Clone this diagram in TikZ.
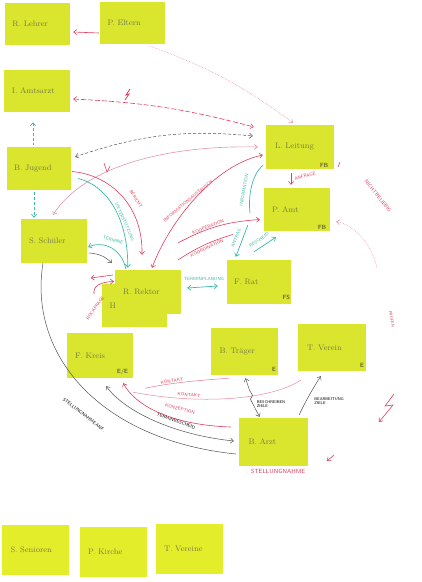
\documentclass[tikz,border=0pt]{standalone}
\usepackage{fontspec}
\usepackage{xcolor}
\usepackage{tikz}
\usetikzlibrary{shapes, arrows, arrows.meta, positioning, calc}

\definecolor{notegreen}{RGB}{217,230,45}
\definecolor{noteyellow}{RGB}{228,237,42}
\definecolor{namegray}{RGB}{120,125,70}
\definecolor{penred}{RGB}{222,62,92}
\definecolor{penpink}{RGB}{226,150,168}
\definecolor{penteal}{RGB}{58,184,168}
\definecolor{pengray}{RGB}{85,80,75}

\begin{document}
\begin{tikzpicture}[x=1pt, y=-1pt, >={Straight Barb[length=3pt,width=5pt]},
    note/.style={fill=notegreen, minimum width=66pt, minimum height=44pt, inner sep=0pt,
                 text width=50pt, align=left, font=\fontsize{8}{9}\selectfont, text=namegray},
    tag/.style={anchor=south east, inner sep=0pt, font=\fontsize{6}{6}\selectfont\sffamily, text=black!80},
    hand/.style={font=\fontsize{4.5}{5}\selectfont\sffamily, inner sep=0.5pt},
    redpen/.style={penred, line width=0.6pt},
    pinkpen/.style={penpink, line width=0.6pt, densely dotted},
    tealpen/.style={penteal, line width=0.7pt},
    graypen/.style={pengray, line width=0.5pt}]
\useasboundingbox (0,0) rectangle (422,582);

% notes, top to bottom
\node[note, minimum width=65pt, minimum height=42pt] (lehrer) at (37.5,24) {R. Lehrer};
\node[note, minimum width=65pt, minimum height=42pt] (eltern) at (132.5,23) {P. Eltern};
\node[note, minimum height=42pt] (amt) at (37,91) {I. Amtsarzt};
\node[note, minimum width=68pt] (leitung) at (300,147) {L. Leitung};
\node[note, minimum width=64pt, minimum height=43pt] (jugend) at (39,168.5) {B. Jugend};
\node[note, minimum height=43pt] (behoerde) at (297,209.5) {P. Amt};
\node[note] (schueler) at (54,241) {S. Schüler};
\node[note, minimum width=65pt, minimum height=43pt] (rektorb) at (134.5,305.5) {H. Rektor};
\node[note] (rektor) at (148,292) {R. Rektor};
\node[note, minimum width=64pt] (rat) at (259,282) {F. Rat};
\node[note, minimum height=45pt] (kreis) at (100,355.5) {F. Kreis};
\node[note, minimum width=67pt, minimum height=47pt] (traeger) at (244.5,351.5) {B. Träger};
\node[note, minimum width=68pt, minimum height=47pt] (verein) at (332,347.5) {T.\ Verein};
\node[note, minimum width=69pt, minimum height=48pt] (ziel) at (273.5,442) {B. Arzt};

% bottom row, not placed yet
\foreach \nx/\ny/\nname/\ntext in {35.5/550/senioren/S. Senioren, 113/551.5/kirche/P. Kirche, 189/548.5/vereine/T. Vereine}
    \node[note, fill=noteyellow, minimum width=67pt, minimum height=50pt] (\nname) at (\nx,\ny) {\ntext};

% corner tags
\node[tag] (fb1) at ($(leitung.south east)+(-6,-2)$) {FB};
\node[tag] (fb2) at ($(behoerde.south east)+(-4,-2)$) {FB};
\node[tag] (fs) at ($(rat.south east)+(-1,-4)$) {FS};
\node[tag] (ee) at ($(kreis.south east)+(-5,-3)$) {E/E};
\node[tag] (e1) at ($(traeger.south east)+(-2,-4)$) {E};
\node[tag] (e2) at ($(verein.south east)+(-2,-4)$) {E};

% top: Eltern
\draw[redpen, ->] ($(eltern.west)+(-1,10)$) -- ($(lehrer.east)+(3,8)$);
\draw[pinkpen, ->] ($(eltern.south)+(18,2)$) to[bend left=8] ($(leitung.north)+(-7,-2)$);

% Amt / Jugend to Leitung
\draw[redpen, <->, dash pattern=on 5pt off 2pt] ($(amt.east)+(3,8)$) to[bend left=6] ($(leitung.west)+(-12,-20)$);
\draw[redpen, line width=0.8pt] (125,100) -- (129,94) -- (126,95) -- (130,89);
\draw[graypen, <->, densely dashed] ($(jugend.north east)+(4,10)$) to[bend left=12] ($(leitung.west)+(-13,-11)$);
\draw[penpink, line width=0.6pt, <->] ($(leitung.west)+(-8,0)$) .. controls (170,145) and (85,165) .. ($(schueler.north)+(-1,-4)$);
\draw[redpen] (104,163) -- (107,172) -- (110,166);

% dashed chain on the left
\draw[tealpen, densely dashed, <-] ($(amt.south)+(-4,10)$) -- ($(jugend.north)+(-6,-2)$);
\draw[tealpen, densely dashed, ->] ($(jugend.south)+(-5,2)$) -- ($(schueler.north)+(-20,-1)$);

% into Rektor
\draw[redpen, ->] ($(jugend.east)+(1,3)$) .. controls (110,175) and (143,205) .. ($(rektor.north)+(-6,-15)$);
\node[hand, text=penred, rotate=-58] (bericht) at (136,199) {BERICHT};
\draw[tealpen, ->] ($(jugend.east)+(7,10)$) .. controls (105,185) and (128,215) .. ($(rektor.north west)+(13,-2)$);
\node[hand, text=penteal, rotate=-66] (hilfe) at (125,222) {UNTERSTÜTZUNG};
\draw[tealpen, <-] ($(schueler.east)+(1,6)$) .. controls (105,240) and (122,250) .. ($(rektor.north west)+(11,-1)$);
\node[hand, text=penteal, rotate=-18] (termine) at (113,240) {TERMINE};
\draw[graypen, ->] ($(schueler.east)+(2,12)$) to[bend left=20] ($(rektor.west)+(-3,-29)$);
\draw[redpen, <->] ($(leitung.west)+(-3,8)$) .. controls (215,165) and (170,220) .. ($(rektor.north)+(4,-2)$);
\node[hand, text=penred, rotate=40] (austausch) at (188,201) {INFORMATIONSAUSTAUSCH};

% Rektor to Amt (FB)
\draw[redpen, ->] ($(rektor.north east)+(-3,-27)$) to[bend left=12] ($(behoerde.west)+(-4,10)$);
\node[hand, text=penred, rotate=22] (koop) at (208,227) {KOOPERATION};
\draw[redpen] ($(rektor.north east)+(-3,-10)$) to[bend left=8] ($(behoerde.west)+(-31,25)$);
\node[hand, text=penred, rotate=25] (koord) at (207,248) {KOORDINATION};

% Leitung down
\draw[redpen, ->] ($(leitung.south)+(-9,4)$) -- ($(behoerde.north)+(-6,-3)$);
\node[hand, text=penred, rotate=15] (anfrage) at (305,176) {ANFRAGE};
\coordinate (infoend) at (250,213);
\draw[tealpen] ($(leitung.south west)+(-3,-4)$) .. controls (252,175) and (248,195) .. (infoend);
\node[hand, text=penteal, rotate=80] (info) at (244,190) {INFORMATION};

% Amt (FB) and Rat
\draw[tealpen, ->] ($(behoerde.south west)+(-16,-6)$) -- ($(rat.north west)+(9,-3)$);
\node[hand, text=penteal, rotate=68] (antrag) at (236,238) {ANTRAG};
\draw[tealpen, ->] ($(rat.north)+(-5,-8)$) -- ($(behoerde.south)+(-21,6)$);
\node[hand, text=penteal, rotate=35] (bescheid) at (259,240) {BESCHEID};
\draw[tealpen, <->] ($(rektor.east)+(6,-4)$) -- ($(rat.west)+(-9,4)$);
\node[hand, text=penteal] (planung) at (204,279) {TERMINPLANUNG};

% left of Rektor
\draw[redpen, ->] ($(rektor.west)+(-2,-17)$) -- ++(-22,3);
\draw[redpen, ->] (94,294) .. controls (93,286) and (100,282) .. ($(rektorb.west)+(12,-24)$);
\node[hand, text=penred, rotate=55] (rueckfrage) at (95,308) {RÜCKFRAGE};

% long curve on the left
\draw[graypen] ($(schueler.south)+(-11,0)$) .. controls (28,355) and (100,440) .. ($(ziel.west)+(-3,12)$);
\node[hand, rotate=-38] (stellung) at (84,415) {STELLUNGNAHME\,ANF.};

% into Kreis
\draw[graypen, <->] ($(ziel.west)+(-5,-1)$) .. controls (175,435) and (125,412) .. ($(kreis.south east)+(-27,8)$);
\node[hand, rotate=-20] (terminb) at (176,421) {TERMINBESCHEID};
\draw[redpen, ->] ($(ziel.west)+(-8,-15)$) .. controls (170,425) and (135,405) .. ($(kreis.south east)+(-10,5)$);
\node[hand, text=penred, rotate=-15] (konzeption) at (180,409) {KONZEPTION};
\draw[penred!70, line width=0.5pt] ($(kreis.south east)+(12,10)$) .. controls (175,382) and (205,380) .. ($(traeger.south west)+(18,3)$);
\node[hand, text=penred, rotate=8] (kontakt1) at (172,381) {KONTAKT};
\draw[penred!60, line width=0.5pt] ($(kreis.south east)+(0,14)$) .. controls (200,405) and (270,400) .. ($(verein.south west)+(3,9)$);
\node[hand, text=penred, rotate=-5] (kontakt2) at (189,395) {KONTAKT};

% Ziel up to Traeger and Verein
\draw[graypen, <->] ($(traeger.south)+(1,3)$) -- ++(4,12) -- ++(3,5) -- ++(-2,4) -- ++(3,6) -- ($(ziel.north)+(-14,-1)$);
\node[hand, align=left, font=\fontsize{4}{4.5}\selectfont\sffamily] (beschr) at (271,404) {BESCHREIBEN\\ZIELE};
\draw[graypen, ->] ($(ziel.north east)+(-9,-3)$) .. controls (306,400) and (315,385) .. ($(verein.south west)+(23,5)$);
\node[hand, align=left, font=\fontsize{4}{4.5}\selectfont\sffamily] (bearb) at (329,401) {BEARBEITUNG\\ZIELE};
\node[hand, text=penred, font=\fontsize{6}{6}\selectfont\sffamily] (stellungnahme) at (278,471) {STELLUNGNAHME};

% right side
\coordinate (pruefend) at (377,268);
\draw[pinkpen, <-] ($(behoerde.east)+(6,12)$) .. controls (355,225) and (372,245) .. (pruefend);
\node[hand, text=penred, rotate=-52, font=\fontsize{5}{5}\selectfont\sffamily] (beliebig) at (378,196) {NICHT\,BELIEBIG};
\node[hand, text=penred, rotate=-80, font=\fontsize{4}{4}\selectfont\sffamily] (pruefen) at (392,319) {PRÜFEN};
\draw[redpen, ->] (394,394) -- (385,406) -- (393,405) -- (379,422);
\draw[redpen, ->] (334,455) -- (327,461);
\draw[redpen] (338,167) -- (340,162);
\end{tikzpicture}
\end{document}
